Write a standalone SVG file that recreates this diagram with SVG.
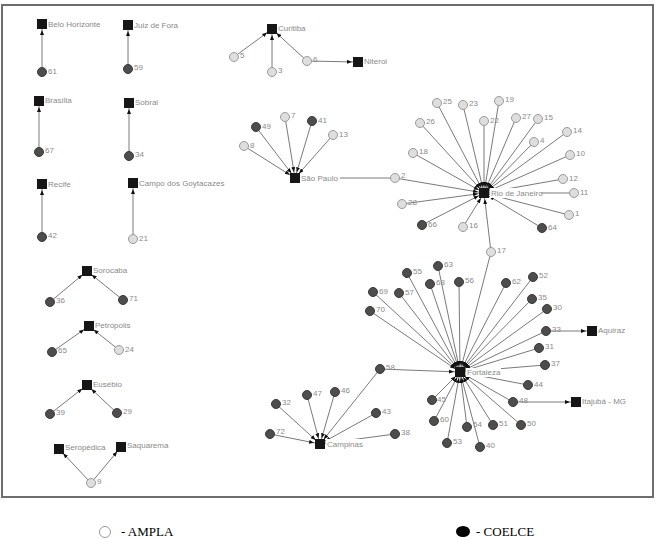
<svg xmlns="http://www.w3.org/2000/svg" width="657" height="540" viewBox="0 0 657 540">
<style>
.e{stroke:#7a7a7a;stroke-width:1;fill:none;marker-end:url(#ah)}
.d{fill:#4d4d4d;stroke:#3a3a3a;stroke-width:1}
.l{fill:#dedede;stroke:#9a9a9a;stroke-width:1}
.s{fill:#161616}
.t{font-family:"Liberation Sans",Arial,sans-serif;font-size:8px;fill:#8a8a8a}
.bg{fill:#fff}
.lg{font-family:"Liberation Serif","Times New Roman",serif;font-size:13px;fill:#000}
</style>
<defs>
<marker id="ah" viewBox="0 0 5 4" refX="11" refY="2" markerWidth="5" markerHeight="4" markerUnits="userSpaceOnUse" orient="auto">
<path d="M0,0 L5,2 L0,4 z" fill="#111"/>
</marker>
</defs>
<rect x="2" y="5" width="651" height="492" fill="#fff" stroke="#6e6e6e" stroke-width="2"/>
<g id="connectors">
<line class="e" x1="42" y1="72" x2="42" y2="24"/>
<line class="e" x1="128" y1="69" x2="128" y2="25"/>
<line class="e" x1="39" y1="152" x2="39" y2="101"/>
<line class="e" x1="129" y1="156" x2="129" y2="103"/>
<line class="e" x1="42" y1="237" x2="42" y2="184"/>
<line class="e" x1="133" y1="239" x2="133" y2="183"/>
<line class="e" x1="234" y1="57" x2="272" y2="29"/>
<line class="e" x1="272" y1="72" x2="272" y2="29"/>
<line class="e" x1="307" y1="61" x2="272" y2="29"/>
<line class="e" x1="307" y1="61" x2="358" y2="62"/>
<line class="e" x1="256" y1="127" x2="295" y2="178"/>
<line class="e" x1="285" y1="117" x2="295" y2="178"/>
<line class="e" x1="312" y1="121" x2="295" y2="178"/>
<line class="e" x1="333" y1="135" x2="295" y2="178"/>
<line class="e" x1="244" y1="146" x2="295" y2="178"/>
<line class="e" x1="395" y1="178" x2="295" y2="178"/>
<line class="e" x1="437" y1="103" x2="484" y2="193"/>
<line class="e" x1="463" y1="105" x2="484" y2="193"/>
<line class="e" x1="499" y1="101" x2="484" y2="193"/>
<line class="e" x1="420" y1="123" x2="484" y2="193"/>
<line class="e" x1="484" y1="121" x2="484" y2="193"/>
<line class="e" x1="516" y1="118" x2="484" y2="193"/>
<line class="e" x1="538" y1="119" x2="484" y2="193"/>
<line class="e" x1="567" y1="132" x2="484" y2="193"/>
<line class="e" x1="534" y1="142" x2="484" y2="193"/>
<line class="e" x1="570" y1="155" x2="484" y2="193"/>
<line class="e" x1="413" y1="153" x2="484" y2="193"/>
<line class="e" x1="563" y1="179" x2="484" y2="193"/>
<line class="e" x1="574" y1="193" x2="484" y2="193"/>
<line class="e" x1="402" y1="204" x2="484" y2="193"/>
<line class="e" x1="569" y1="215" x2="484" y2="193"/>
<line class="e" x1="422" y1="225" x2="484" y2="193"/>
<line class="e" x1="463" y1="227" x2="484" y2="193"/>
<line class="e" x1="542" y1="228" x2="484" y2="193"/>
<line class="e" x1="491" y1="252" x2="484" y2="193"/>
<line class="e" x1="395" y1="178" x2="484" y2="193"/>
<line class="e" x1="491" y1="252" x2="460" y2="372"/>
<line class="e" x1="407" y1="273" x2="460" y2="372"/>
<line class="e" x1="438" y1="266" x2="460" y2="372"/>
<line class="e" x1="430" y1="284" x2="460" y2="372"/>
<line class="e" x1="459" y1="282" x2="460" y2="372"/>
<line class="e" x1="399" y1="293" x2="460" y2="372"/>
<line class="e" x1="373" y1="292" x2="460" y2="372"/>
<line class="e" x1="370" y1="311" x2="460" y2="372"/>
<line class="e" x1="506" y1="283" x2="460" y2="372"/>
<line class="e" x1="533" y1="277" x2="460" y2="372"/>
<line class="e" x1="532" y1="299" x2="460" y2="372"/>
<line class="e" x1="547" y1="309" x2="460" y2="372"/>
<line class="e" x1="546" y1="331" x2="460" y2="372"/>
<line class="e" x1="539" y1="348" x2="460" y2="372"/>
<line class="e" x1="545" y1="365" x2="460" y2="372"/>
<line class="e" x1="528" y1="385" x2="460" y2="372"/>
<line class="e" x1="513" y1="402" x2="460" y2="372"/>
<line class="e" x1="432" y1="400" x2="460" y2="372"/>
<line class="e" x1="434" y1="421" x2="460" y2="372"/>
<line class="e" x1="467" y1="427" x2="460" y2="372"/>
<line class="e" x1="493" y1="425" x2="460" y2="372"/>
<line class="e" x1="521" y1="425" x2="460" y2="372"/>
<line class="e" x1="447" y1="443" x2="460" y2="372"/>
<line class="e" x1="480" y1="447" x2="460" y2="372"/>
<line class="e" x1="380" y1="369" x2="460" y2="372"/>
<line class="e" x1="546" y1="331" x2="592" y2="331"/>
<line class="e" x1="513" y1="402" x2="576" y2="402"/>
<line class="e" x1="276" y1="404" x2="320" y2="444"/>
<line class="e" x1="307" y1="395" x2="320" y2="444"/>
<line class="e" x1="335" y1="392" x2="320" y2="444"/>
<line class="e" x1="376" y1="413" x2="320" y2="444"/>
<line class="e" x1="395" y1="434" x2="320" y2="444"/>
<line class="e" x1="270" y1="434" x2="320" y2="444"/>
<line class="e" x1="380" y1="369" x2="320" y2="444"/>
<line class="e" x1="50" y1="302" x2="87" y2="271"/>
<line class="e" x1="123" y1="300" x2="87" y2="271"/>
<line class="e" x1="52" y1="352" x2="89" y2="326"/>
<line class="e" x1="119" y1="350" x2="89" y2="326"/>
<line class="e" x1="50" y1="414" x2="87" y2="385"/>
<line class="e" x1="117" y1="413" x2="87" y2="385"/>
<line class="e" x1="91" y1="483" x2="59" y2="449"/>
<line class="e" x1="91" y1="483" x2="121" y2="447"/>
</g>
<g id="BeloHorizonte"><rect class="s" x="37" y="19" width="10" height="10"/><text class="t" x="48" y="27">Belo Horizonte</text></g>
<g id="JuizDeFora"><rect class="s" x="123" y="20" width="10" height="10"/><text class="t" x="134" y="28">Juiz de Fora</text></g>
<g id="Brasilia"><rect class="s" x="34" y="96" width="10" height="10"/><text class="t" x="45" y="103">Brasília</text></g>
<g id="Sobral"><rect class="s" x="124" y="98" width="10" height="10"/><text class="t" x="135" y="105">Sobral</text></g>
<g id="Recife"><rect class="s" x="37" y="179" width="10" height="10"/><text class="t" x="48" y="187">Recife</text></g>
<g id="CampoDosGoytacazes"><rect class="s" x="128" y="178" width="10" height="10"/><text class="t" x="139" y="186">Campo dos Goytacazes</text></g>
<g id="Curitiba"><rect class="s" x="267" y="24" width="10" height="10"/><text class="t" x="278" y="31">Curitiba</text></g>
<g id="Niteroi"><rect class="s" x="353" y="57" width="10" height="10"/><text class="t" x="364" y="64">Niteroi</text></g>
<g id="SaoPaulo"><rect class="s" x="290" y="173" width="10" height="10"/><rect class="bg" x="300" y="173" width="40" height="10"/><text class="t" x="301" y="181">São Paulo</text></g>
<g id="RioDeJaneiro"><rect class="s" x="479" y="188" width="10" height="10"/><rect class="bg" x="490" y="188" width="51" height="10"/><text class="t" x="491" y="196">Rio de Janeiro</text></g>
<g id="Fortaleza"><rect class="s" x="455" y="367" width="10" height="10"/><rect class="bg" x="466" y="368" width="35" height="9"/><text class="t" x="467" y="375">Fortaleza</text></g>
<g id="Aquiraz"><rect class="s" x="587" y="326" width="10" height="10"/><text class="t" x="598" y="333">Aquiraz</text></g>
<g id="Itajuba"><rect class="s" x="571" y="397" width="10" height="10"/><text class="t" x="582" y="404">Itajubá - MG</text></g>
<g id="Campinas"><rect class="s" x="315" y="439" width="10" height="10"/><rect class="bg" x="326" y="439" width="35" height="10"/><text class="t" x="327" y="447">Campinas</text></g>
<g id="Sorocaba"><rect class="s" x="82" y="266" width="10" height="10"/><text class="t" x="93" y="273">Sorocaba</text></g>
<g id="Petropolis"><rect class="s" x="84" y="321" width="10" height="10"/><text class="t" x="95" y="328">Petrópolis</text></g>
<g id="Eusebio"><rect class="s" x="82" y="380" width="10" height="10"/><text class="t" x="93" y="387">Eusébio</text></g>
<g id="Seropedica"><rect class="s" x="54" y="444" width="10" height="10"/><text class="t" x="65" y="450">Seropédica</text></g>
<g id="Saquarema"><rect class="s" x="116" y="442" width="10" height="10"/><text class="t" x="127" y="448">Saquarema</text></g>
<g id="n61"><circle class="d" cx="42" cy="72" r="4.5"/><text class="t" x="48" y="74">61</text></g>
<g id="n59"><circle class="d" cx="128" cy="69" r="4.5"/><text class="t" x="134" y="70">59</text></g>
<g id="n67"><circle class="d" cx="39" cy="152" r="4.5"/><text class="t" x="45" y="153">67</text></g>
<g id="n34"><circle class="d" cx="129" cy="156" r="4.5"/><text class="t" x="135" y="157">34</text></g>
<g id="n42"><circle class="d" cx="42" cy="237" r="4.5"/><text class="t" x="48" y="238">42</text></g>
<g id="n21"><circle class="l" cx="133" cy="239" r="4.5"/><text class="t" x="139" y="241">21</text></g>
<g id="n5"><circle class="l" cx="234" cy="57" r="4.5"/><text class="t" x="240" y="58">5</text></g>
<g id="n3"><circle class="l" cx="272" cy="72" r="4.5"/><text class="t" x="278" y="73">3</text></g>
<g id="n6"><circle class="l" cx="307" cy="61" r="4.5"/><text class="t" x="313" y="62">6</text></g>
<g id="n49"><circle class="d" cx="256" cy="127" r="4.5"/><text class="t" x="262" y="129">49</text></g>
<g id="n7"><circle class="l" cx="285" cy="117" r="4.5"/><text class="t" x="291" y="118">7</text></g>
<g id="n41"><circle class="d" cx="312" cy="121" r="4.5"/><text class="t" x="318" y="123">41</text></g>
<g id="n13"><circle class="l" cx="333" cy="135" r="4.5"/><text class="t" x="339" y="137">13</text></g>
<g id="n8"><circle class="l" cx="244" cy="146" r="4.5"/><text class="t" x="250" y="148">8</text></g>
<g id="n2"><circle class="l" cx="395" cy="178" r="4.5"/><text class="t" x="401" y="178">2</text></g>
<g id="n25"><circle class="l" cx="437" cy="103" r="4.5"/><text class="t" x="443" y="104">25</text></g>
<g id="n23"><circle class="l" cx="463" cy="105" r="4.5"/><text class="t" x="469" y="106">23</text></g>
<g id="n19"><circle class="l" cx="499" cy="101" r="4.5"/><text class="t" x="505" y="102">19</text></g>
<g id="n26"><circle class="l" cx="420" cy="123" r="4.5"/><text class="t" x="426" y="124">26</text></g>
<g id="n22"><circle class="l" cx="484" cy="121" r="4.5"/><text class="t" x="490" y="123">22</text></g>
<g id="n27"><circle class="l" cx="516" cy="118" r="4.5"/><text class="t" x="522" y="119">27</text></g>
<g id="n15"><circle class="l" cx="538" cy="119" r="4.5"/><text class="t" x="544" y="120">15</text></g>
<g id="n14"><circle class="l" cx="567" cy="132" r="4.5"/><text class="t" x="573" y="133">14</text></g>
<g id="n4"><circle class="l" cx="534" cy="142" r="4.5"/><text class="t" x="540" y="143">4</text></g>
<g id="n10"><circle class="l" cx="570" cy="155" r="4.5"/><text class="t" x="576" y="156">10</text></g>
<g id="n18"><circle class="l" cx="413" cy="153" r="4.5"/><text class="t" x="419" y="154">18</text></g>
<g id="n12"><circle class="l" cx="563" cy="179" r="4.5"/><text class="t" x="569" y="181">12</text></g>
<g id="n11"><circle class="l" cx="574" cy="193" r="4.5"/><text class="t" x="580" y="195">11</text></g>
<g id="n28"><circle class="l" cx="402" cy="204" r="4.5"/><text class="t" x="408" y="205">28</text></g>
<g id="n1"><circle class="l" cx="569" cy="215" r="4.5"/><text class="t" x="575" y="216">1</text></g>
<g id="n66"><circle class="d" cx="422" cy="225" r="4.5"/><text class="t" x="428" y="227">66</text></g>
<g id="n16"><circle class="l" cx="463" cy="227" r="4.5"/><text class="t" x="469" y="228">16</text></g>
<g id="n64"><circle class="d" cx="542" cy="228" r="4.5"/><text class="t" x="548" y="230">64</text></g>
<g id="n17"><circle class="l" cx="491" cy="252" r="4.5"/><text class="t" x="497" y="253">17</text></g>
<g id="n55"><circle class="d" cx="407" cy="273" r="4.5"/><text class="t" x="413" y="274">55</text></g>
<g id="n63"><circle class="d" cx="438" cy="266" r="4.5"/><text class="t" x="444" y="267">63</text></g>
<g id="n68"><circle class="d" cx="430" cy="284" r="4.5"/><text class="t" x="436" y="285">68</text></g>
<g id="n56"><circle class="d" cx="459" cy="282" r="4.5"/><text class="t" x="465" y="283">56</text></g>
<g id="n57"><circle class="d" cx="399" cy="293" r="4.5"/><text class="t" x="405" y="295">57</text></g>
<g id="n69"><circle class="d" cx="373" cy="292" r="4.5"/><text class="t" x="379" y="294">69</text></g>
<g id="n70"><circle class="d" cx="370" cy="311" r="4.5"/><text class="t" x="376" y="312">70</text></g>
<g id="n62"><circle class="d" cx="506" cy="283" r="4.5"/><text class="t" x="512" y="284">62</text></g>
<g id="n52"><circle class="d" cx="533" cy="277" r="4.5"/><text class="t" x="539" y="278">52</text></g>
<g id="n35"><circle class="d" cx="532" cy="299" r="4.5"/><text class="t" x="538" y="300">35</text></g>
<g id="n30"><circle class="d" cx="547" cy="309" r="4.5"/><text class="t" x="553" y="310">30</text></g>
<g id="n33"><circle class="d" cx="546" cy="331" r="4.5"/><text class="t" x="552" y="332">33</text></g>
<g id="n31"><circle class="d" cx="539" cy="348" r="4.5"/><text class="t" x="545" y="349">31</text></g>
<g id="n37"><circle class="d" cx="545" cy="365" r="4.5"/><text class="t" x="551" y="366">37</text></g>
<g id="n44"><circle class="d" cx="528" cy="385" r="4.5"/><text class="t" x="534" y="387">44</text></g>
<g id="n48"><circle class="d" cx="513" cy="402" r="4.5"/><text class="t" x="519" y="403">48</text></g>
<g id="n45"><circle class="d" cx="432" cy="400" r="4.5"/><text class="t" x="437" y="402">45</text></g>
<g id="n60"><circle class="d" cx="434" cy="421" r="4.5"/><text class="t" x="440" y="422">60</text></g>
<g id="n54"><circle class="d" cx="467" cy="427" r="4.5"/><text class="t" x="473" y="427">54</text></g>
<g id="n51"><circle class="d" cx="493" cy="425" r="4.5"/><text class="t" x="499" y="426">51</text></g>
<g id="n50"><circle class="d" cx="521" cy="425" r="4.5"/><text class="t" x="527" y="426">50</text></g>
<g id="n53"><circle class="d" cx="447" cy="443" r="4.5"/><text class="t" x="453" y="444">53</text></g>
<g id="n40"><circle class="d" cx="480" cy="447" r="4.5"/><text class="t" x="486" y="448">40</text></g>
<g id="n58"><circle class="d" cx="380" cy="369" r="4.5"/><text class="t" x="386" y="370">58</text></g>
<g id="n32"><circle class="d" cx="276" cy="404" r="4.5"/><text class="t" x="282" y="405">32</text></g>
<g id="n47"><circle class="d" cx="307" cy="395" r="4.5"/><text class="t" x="313" y="396">47</text></g>
<g id="n46"><circle class="d" cx="335" cy="392" r="4.5"/><text class="t" x="341" y="393">46</text></g>
<g id="n43"><circle class="d" cx="376" cy="413" r="4.5"/><text class="t" x="382" y="414">43</text></g>
<g id="n38"><circle class="d" cx="395" cy="434" r="4.5"/><text class="t" x="401" y="435">38</text></g>
<g id="n72"><circle class="d" cx="270" cy="434" r="4.5"/><text class="t" x="276" y="434">72</text></g>
<g id="n36"><circle class="d" cx="50" cy="302" r="4.5"/><text class="t" x="56" y="303">36</text></g>
<g id="n71"><circle class="d" cx="123" cy="300" r="4.5"/><text class="t" x="129" y="301">71</text></g>
<g id="n65"><circle class="d" cx="52" cy="352" r="4.5"/><text class="t" x="58" y="353">65</text></g>
<g id="n24"><circle class="l" cx="119" cy="350" r="4.5"/><text class="t" x="125" y="352">24</text></g>
<g id="n39"><circle class="d" cx="50" cy="414" r="4.5"/><text class="t" x="56" y="415">39</text></g>
<g id="n29"><circle class="d" cx="117" cy="413" r="4.5"/><text class="t" x="123" y="414">29</text></g>
<g id="n9"><circle class="l" cx="91" cy="483" r="4.5"/><text class="t" x="97" y="484">9</text></g>
<g id="legend">
<circle cx="105" cy="532" r="5.5" fill="#fff" stroke="#999" stroke-width="1"/>
<text class="lg" x="121" y="536">- AMPLA</text>
<ellipse cx="463" cy="531.5" rx="7" ry="5.5" fill="#000"/>
<text class="lg" x="476" y="536">- COELCE</text>
</g>
</svg>
